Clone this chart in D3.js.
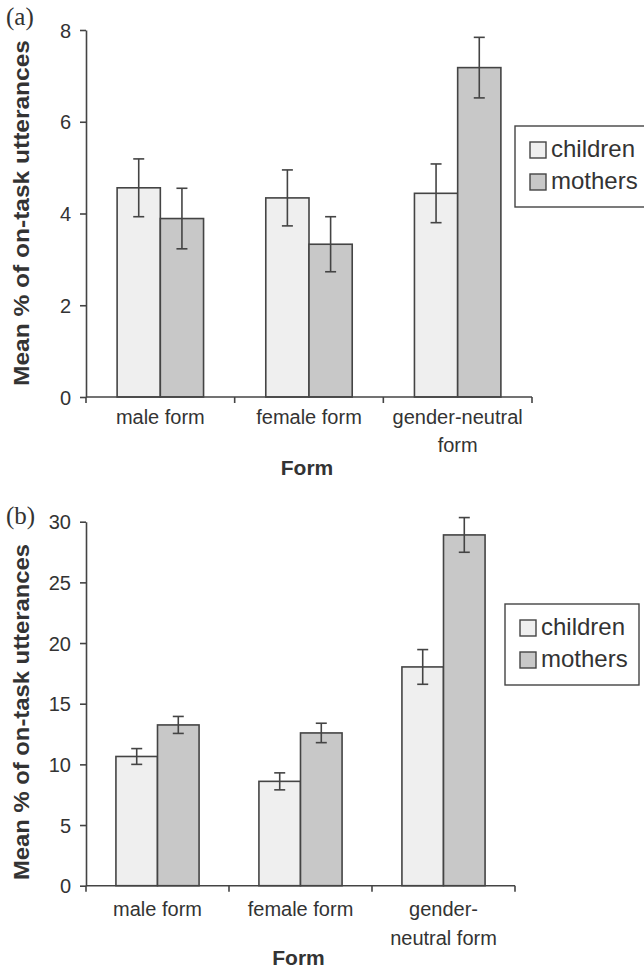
<!DOCTYPE html>
<html>
<head>
<meta charset="utf-8">
<script src="https://cdn.jsdelivr.net/npm/d3@7"></script>
<style>
  body { margin: 0; background: #fff; }
  svg text { font-family: "Liberation Sans", Arial, sans-serif; fill: #333; }
</style>
</head>
<body>
<div id="chart-container"></div>
<script>
// categories and series
const forms = ["male form", "female form", "gender-neutral form"];
const groups = ["children", "mothers"];

// panel (a) values
const childrenA = [4.56, 4.34, 4.44];
const mothersA = [3.89, 3.33, 7.18];
const childrenErrA = [0.63, 0.61, 0.64];
const mothersErrA = [0.66, 0.6, 0.66];
const ticksA = [0, 2, 4, 6, 8];
const labelsA = [["male form"], ["female form"], ["gender-neutral", "form"]];

// panel (b) values
const childrenB = [10.65, 8.6, 18.03];
const mothersB = [13.25, 12.59, 28.91];
const childrenErrB = [0.65, 0.7, 1.43];
const mothersErrB = [0.7, 0.8, 1.43];
const ticksB = [0, 5, 10, 15, 20, 25, 30];
const labelsB = [["male form"], ["female form"], ["gender-", "neutral form"]];

const fills = { children: "#efefef", mothers: "#c8c8c8" };
const ink = "#444";

const svg = d3
  .select("#chart-container")
  .append("svg")
  .attr("width", 644)
  .attr("height", 972);

// draw one bar panel; layout numbers are the pixel box of that panel
function drawPanel(p) {
  const g = svg.append("g");

  const x = d3.scaleBand().domain(forms).range([p.left, p.right]);
  const x1 = d3
    .scaleBand()
    .domain(groups)
    .range([0, x.bandwidth()])
    .paddingOuter(0.72);
  const y = d3.scaleLinear().domain([0, p.max]).range([p.bottom, p.top]);

  const rows = forms.map((f, i) => ({
    form: f,
    values: [
      { key: "children", v: p.children[i], e: p.childrenErr[i] },
      { key: "mothers", v: p.mothers[i], e: p.mothersErr[i] },
    ],
  }));

  // bars
  const grp = g
    .selectAll(".grp")
    .data(rows)
    .enter()
    .append("g")
    .attr("transform", (d) => `translate(${x(d.form)},0)`);

  grp
    .selectAll("rect")
    .data((d) => d.values)
    .enter()
    .append("rect")
    .attr("x", (d) => x1(d.key))
    .attr("y", (d) => y(d.v))
    .attr("width", x1.bandwidth())
    .attr("height", (d) => y(0) - y(d.v))
    .attr("fill", (d) => fills[d.key])
    .attr("stroke", ink)
    .attr("stroke-width", 1.6);

  // error bars
  const eb = grp
    .selectAll(".err")
    .data((d) => d.values)
    .enter()
    .append("g")
    .attr("stroke", ink)
    .attr("stroke-width", 1.6);
  const cx = (d) => x1(d.key) + x1.bandwidth() / 2;
  eb.append("line")
    .attr("x1", cx).attr("x2", cx)
    .attr("y1", (d) => y(d.v + d.e))
    .attr("y2", (d) => y(d.v - d.e));
  [1, -1].forEach((s) => {
    eb.append("line")
      .attr("x1", (d) => cx(d) - 5.5)
      .attr("x2", (d) => cx(d) + 5.5)
      .attr("y1", (d) => y(d.v + s * d.e))
      .attr("y2", (d) => y(d.v + s * d.e));
  });

  // y axis
  const yAxis = d3
    .axisLeft(y)
    .tickValues(p.ticks)
    .tickSize(6)
    .tickSizeOuter(0)
    .tickPadding(9);
  const ya = g.append("g").attr("transform", `translate(${p.left},0)`).call(yAxis);
  ya.selectAll("path, line").attr("stroke", ink).attr("stroke-width", 1.6);
  ya.selectAll("text")
    .style("font-size", "20px")
    .attr("fill", "#333")
    .attr("dy", "0.36em");

  // x axis line with ticks on band edges
  const xa = g.append("g");
  xa.append("line")
    .attr("x1", p.left).attr("x2", p.right)
    .attr("y1", y(0)).attr("y2", y(0))
    .attr("stroke", ink).attr("stroke-width", 1.6);
  const edges = forms.map((f) => x(f)).concat([p.right]);
  xa.selectAll(".edge")
    .data(edges)
    .enter()
    .append("line")
    .attr("x1", (d) => d).attr("x2", (d) => d)
    .attr("y1", y(0)).attr("y2", y(0) + 6)
    .attr("stroke", ink).attr("stroke-width", 1.6);

  // category labels
  const lab = xa
    .selectAll(".lab")
    .data(forms)
    .enter()
    .append("text")
    .attr("text-anchor", "middle")
    .style("font-size", "20px")
    .attr("y", p.labelY);
  lab.selectAll("tspan")
    .data((d, i) => p.labels[i].map((t) => ({ t, c: x(d) + x.bandwidth() / 2 })))
    .enter()
    .append("tspan")
    .attr("x", (d) => d.c)
    .attr("dy", (d, i) => (i === 0 ? 0 : p.lineH))
    .text((d) => d.t);

  // axis titles
  g.append("text")
    .attr("x", (p.left + p.right) / 2 - 2)
    .attr("y", p.formY)
    .attr("text-anchor", "middle")
    .style("font-size", "21px")
    .style("font-weight", "bold")
    .text("Form");

  g.append("text")
    .attr("transform", `translate(29,${p.titleCy}) rotate(-90)`)
    .attr("text-anchor", "middle")
    .attr("textLength", p.titleLen)
    .attr("lengthAdjust", "spacingAndGlyphs")
    .style("font-size", "22px")
    .style("font-weight", "bold")
    .text("Mean % of on-task utterances");

  // panel letter
  g.append("text")
    .attr("x", 6)
    .attr("y", p.letterY)
    .style("font-family", "'Liberation Serif', 'Times New Roman', serif")
    .style("font-size", "25px")
    .text(p.letter);

  // legend
  const lg = g.append("g").attr("transform", `translate(${p.legX},${p.legY})`);
  lg.append("rect")
    .attr("width", p.legW)
    .attr("height", p.legH)
    .attr("fill", "#fff")
    .attr("stroke", ink)
    .attr("stroke-width", 1.4);
  groups.forEach((k, i) => {
    const item = lg.append("g").attr("transform", `translate(15,${16 + i * 32})`);
    item.append("rect")
      .attr("width", 16)
      .attr("height", 16)
      .attr("fill", fills[k])
      .attr("stroke", ink)
      .attr("stroke-width", 1.4);
    item.append("text")
      .attr("x", 21)
      .attr("y", 15)
      .style("font-size", "24px")
      .text(k);
  });
}

drawPanel({
  letter: "(a)", letterY: 25,
  left: 86, right: 532, top: 30, bottom: 397, max: 8,
  ticks: ticksA, labels: labelsA, labelY: 424, lineH: 28,
  children: childrenA, mothers: mothersA,
  childrenErr: childrenErrA, mothersErr: mothersErrA,
  formY: 475, titleCy: 213, titleLen: 346,
  legX: 515, legY: 126, legW: 135, legH: 81,
});

drawPanel({
  letter: "(b)", letterY: 524,
  left: 86, right: 515, top: 521.7, bottom: 885.7, max: 30,
  ticks: ticksB, labels: labelsB, labelY: 916, lineH: 29,
  children: childrenB, mothers: mothersB,
  childrenErr: childrenErrB, mothersErr: mothersErrB,
  formY: 965, titleCy: 712, titleLen: 336,
  legX: 505, legY: 604, legW: 134, legH: 81,
});
</script>
</body>
</html>
